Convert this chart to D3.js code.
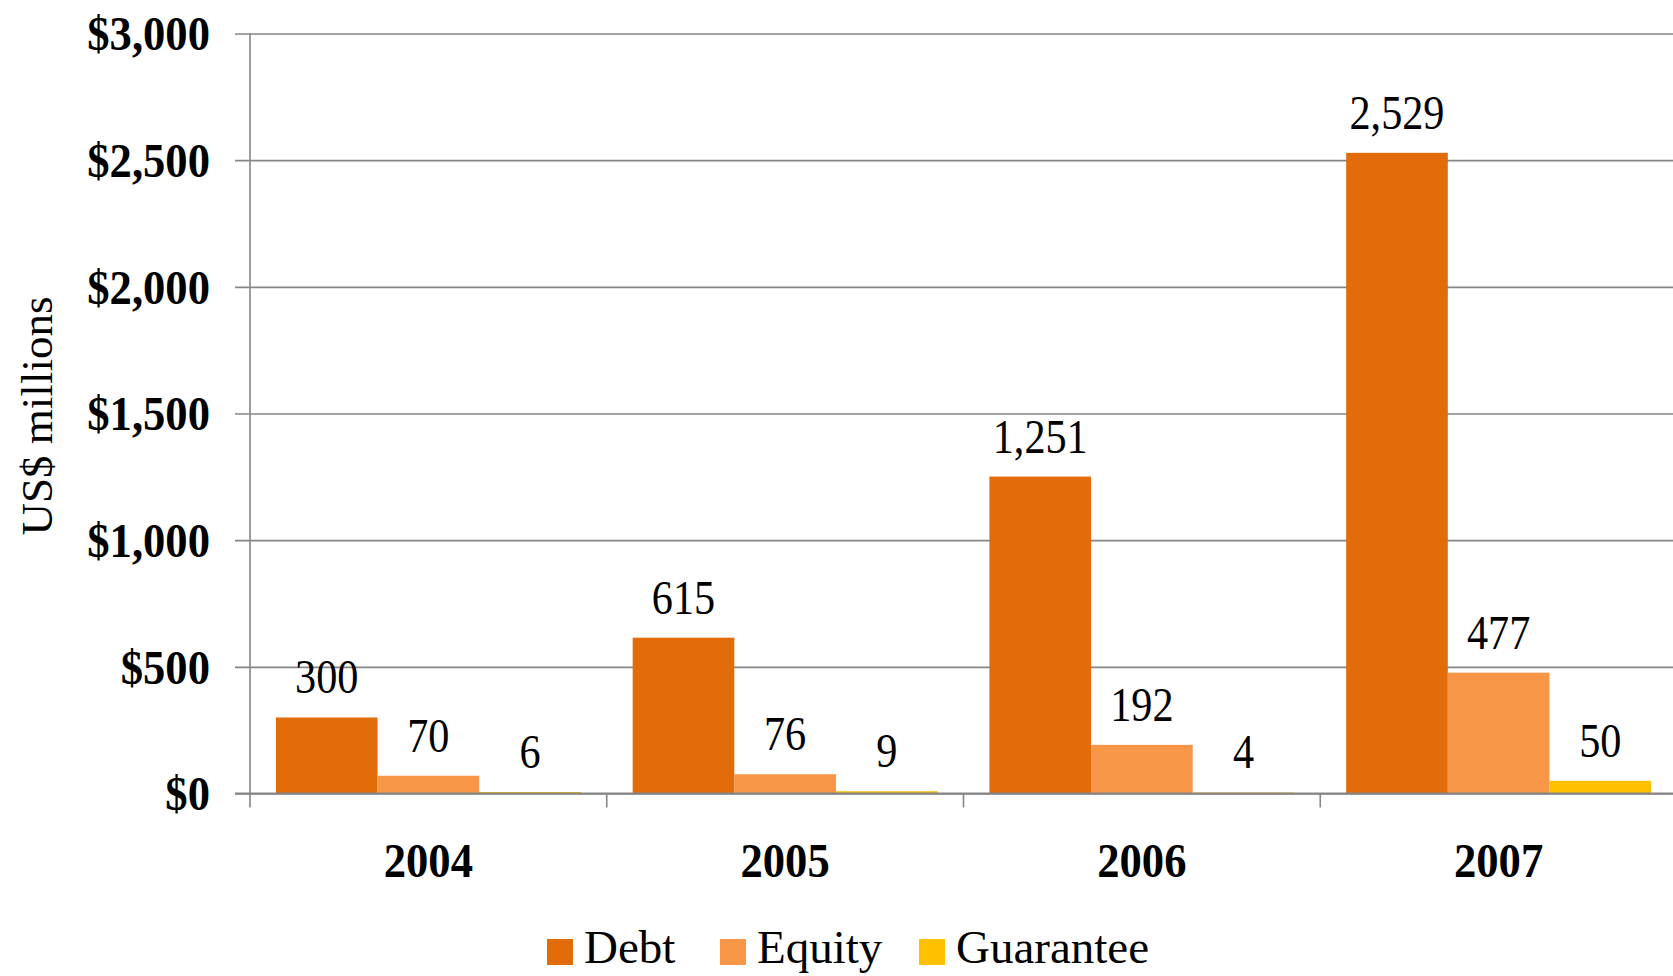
<!DOCTYPE html>
<html>
<head>
<meta charset="utf-8">
<script src="https://cdn.jsdelivr.net/npm/d3@7"></script>
<style>
  body { margin: 0; background: #fff; }
  svg { display: block; }
</style>
</head>
<body>
<div id="chart"></div>
<script>
// chart values
const years = ["2004", "2005", "2006", "2007"];
const seriesNames = ["Debt", "Equity", "Guarantee"];
const debt = [300, 615, 1251, 2529];
const equity = [70, 76, 192, 477];
const guarantee = [6, 9, 4, 50];
const yTicks = [0, 500, 1000, 1500, 2000, 2500, 3000];
const seriesColors = ["#E26B0A", "#F79646", "#FFC000"];

const width = 1673, height = 976;
const margin = { top: 33.5, right: -4, bottom: 182.5, left: 250 };
const gridColor = "#868686";

const svg = d3.select("#chart").append("svg")
    .attr("width", width)
    .attr("height", height);

const x = d3.scaleBand()
    .domain(years)
    .range([margin.left, width - margin.right]);

// bars inside a category
const xInner = d3.scaleBand()
    .domain(seriesNames)
    .range([0, x.bandwidth()])
    .paddingOuter(0.255)
    .paddingInner(0);

const y = d3.scaleLinear()
    .domain([0, 3000])
    .range([height - margin.bottom, margin.top]);

const values = [debt, equity, guarantee];
const rows = [];
years.forEach((yr, i) => {
    seriesNames.forEach((s, j) => {
        rows.push({ year: yr, series: s, value: values[j][i], color: seriesColors[j] });
    });
});

/**
 * Gridlines + y axis
 */
const yAxis = svg.append("g")
    .attr("transform", `translate(${margin.left},0)`)
    .call(d3.axisLeft(y).tickValues(yTicks).tickSize(15)
        .tickFormat(d => "$" + d3.format(",")(d)));
yAxis.select(".domain").remove();
yAxis.selectAll(".tick line")
    .attr("x1", -15)
    .attr("x2", width - margin.left)
    .attr("stroke", gridColor)
    .attr("stroke-width", 1.6);
const ty = 0.93;
yAxis.selectAll(".tick text")
    .attr("transform", `scale(${ty},1)`)
    .attr("x", -40 / ty)
    .attr("dy", "0.34em")
    .attr("font-family", "'Liberation Serif', serif")
    .attr("font-weight", "bold")
    .attr("font-size", 48)
    .attr("fill", "#000")
    .attr("text-anchor", "end");

/**
 * Bars
 */
svg.append("g").selectAll("rect")
    .data(rows)
    .enter().append("rect")
    .attr("x", d => x(d.year) + xInner(d.series))
    .attr("y", d => y(d.value))
    .attr("width", xInner.bandwidth())
    .attr("height", d => y(0) - y(d.value))
    .attr("fill", d => d.color);

// baseline over the bars
svg.append("line")
    .attr("x1", margin.left - 15).attr("x2", width)
    .attr("y1", y(0)).attr("y2", y(0))
    .attr("stroke", gridColor)
    .attr("stroke-width", 2);

// left axis line
svg.append("line")
    .attr("x1", margin.left).attr("x2", margin.left)
    .attr("y1", margin.top).attr("y2", y(0) + 14)
    .attr("stroke", gridColor)
    .attr("stroke-width", 1.6);

// x ticks between categories
svg.selectAll(".xtick")
    .data(years.slice(1))
    .enter().append("line")
    .attr("x1", d => x(d)).attr("x2", d => x(d))
    .attr("y1", y(0)).attr("y2", y(0) + 14)
    .attr("stroke", gridColor)
    .attr("stroke-width", 1.6);

/**
 * Data labels
 */
const sx = 0.88;
svg.append("g").selectAll("text")
    .data(rows)
    .enter().append("text")
    .attr("transform", `scale(${sx},1)`)
    .attr("x", d => (x(d.year) + xInner(d.series) + xInner.bandwidth() / 2) / sx)
    .attr("y", d => y(d.value) - 24)
    .attr("text-anchor", "middle")
    .attr("font-family", "'Liberation Serif', serif")
    .attr("font-size", 48)
    .attr("fill", "#000")
    .text(d => d3.format(",")(d.value));

// category labels
const cx = 0.93;
svg.append("g").selectAll("text")
    .data(years)
    .enter().append("text")
    .attr("transform", `scale(${cx},1)`)
    .attr("x", d => (x(d) + x.bandwidth() / 2) / cx)
    .attr("y", 877)
    .attr("text-anchor", "middle")
    .attr("font-family", "'Liberation Serif', serif")
    .attr("font-weight", "bold")
    .attr("font-size", 48)
    .attr("fill", "#000")
    .text(d => d);

// y axis title
svg.append("text")
    .attr("transform", "translate(52,416) rotate(-90)")
    .attr("text-anchor", "middle")
    .attr("font-family", "'Liberation Serif', serif")
    .attr("font-size", 45)
    .attr("fill", "#000")
    .text("US$ millions");

/**
 * Legend
 */
const legendX = [547, 720, 919];
const legend = svg.append("g").selectAll("g")
    .data(seriesNames)
    .enter().append("g")
    .attr("transform", (d, i) => `translate(${legendX[i]},939)`);
legend.append("rect")
    .attr("width", 26).attr("height", 26)
    .attr("fill", (d, i) => seriesColors[i]);
legend.append("text")
    .attr("x", 37)
    .attr("y", 24)
    .attr("font-family", "'Liberation Serif', serif")
    .attr("font-size", 47)
    .attr("fill", "#000")
    .text(d => d);
</script>
</body>
</html>
